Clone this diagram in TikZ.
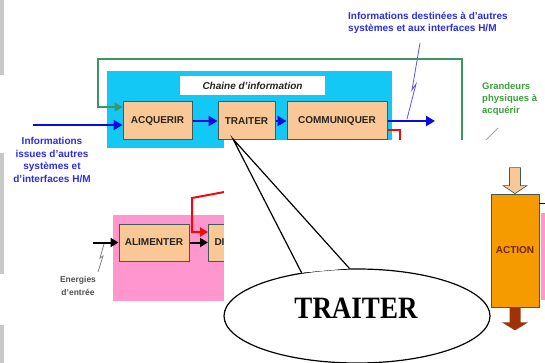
\documentclass[tikz,border=0pt]{standalone}
\usepackage{fontspec}
\usepackage{graphicx}
\setmainfont{Liberation Sans}
\newfontfamily\balloonfont{Liberation Serif}
\usetikzlibrary{arrows.meta,calc,shapes.geometric}
\definecolor{cyanbg}{RGB}{20,200,245}
\definecolor{peach}{RGB}{250,200,150}
\definecolor{boxborder}{RGB}{60,90,90}
\definecolor{greenline}{RGB}{60,150,100}
\definecolor{arrowblue}{RGB}{10,10,225}
\definecolor{infoblue}{RGB}{45,45,225}
\definecolor{greentext}{RGB}{60,160,60}
\definecolor{pinkbg}{RGB}{255,150,205}
\definecolor{redline}{RGB}{240,10,10}
\definecolor{actionorange}{RGB}{245,155,0}
\definecolor{brownarrow}{RGB}{160,50,10}
\definecolor{textdark}{RGB}{40,35,30}
\definecolor{graybar}{RGB}{200,200,200}
\definecolor{graytext}{RGB}{80,80,80}
\begin{document}
\begin{tikzpicture}[x=1pt,y=-1pt,
  font=\bfseries\fontsize{10}{12}\selectfont,
  box/.style={draw=boxborder, fill=peach, line width=1pt, minimum height=38pt, inner sep=0pt, text=textdark},
  blarrow/.style={draw=arrowblue, line width=2.5pt, -{Triangle[length=9pt,width=10pt]}},
  blkarrow/.style={draw=black, line width=2pt, -{Triangle[length=8pt,width=9pt]}},
  redarrow/.style={draw=redline, line width=2pt, -{Triangle[length=8pt,width=9pt]}},
  greenarrow/.style={draw=greenline, line width=2pt, -{Triangle[length=8pt,width=9pt]}},
  bolt/.style={line width=0.8pt}
]
\useasboundingbox (0,0) rectangle (545,363);
\fill[white] (0,0) rectangle (545,363);
% left grey bars
\fill[graybar] (0,0) rectangle (4,75);
\fill[graybar] (0,153) rectangle (4,274);
\fill[graybar] (0,325) rectangle (4,363);

% top-right text
\node[text=infoblue, align=left, anchor=north west, inner sep=0pt] (topinfo) at (348,12) {Informations destinées à d'autres\\systèmes et aux interfaces H/M};
\coordinate (boltA) at (420,43);
\draw[bolt, draw=infoblue!80] (boltA) -- (412,90) -- (416,84) -- (407,119);

% chaine d'information
\fill[cyanbg] (107,71) rectangle (392,148);
\node[fill=white, minimum width=145pt, minimum height=19pt, inner sep=0pt, text=textdark, font=\bfseries\itshape\fontsize{10}{12}\selectfont] (chain) at (252.5,85.5) {Chaine d'information};
\node[box, minimum width=69pt] (acq) at (157.5,121) {ACQUERIR};
\node[box, minimum width=57pt] (tra) at (246.5,121) {TRAITER};
\node[box, minimum width=100pt] (com) at (337,121) {COMMUNIQUER};

% green frame
\coordinate (gStart) at (462,150);
\coordinate (gY) at (0,107);
\draw[greenarrow] (gStart) -- (462,59) -- (98,59) -- (98,107) -- (acq.west |- gY);

% blue arrows
\coordinate (inL) at (33,125);
\draw[blarrow] (inL) -- (inL -| acq.west);
\draw[blarrow] (acq) -- (tra);
\draw[blarrow] (tra) -- (com);
\coordinate (outR) at (435,121);
\draw[blarrow] (com) -- (outR);

% red from communiquer
\coordinate (rA) at (0,130);
\draw[draw=redline, line width=2pt] (com.east |- rA) -- (400,130) -- (400,150);

% grandeurs
\node[text=greentext, align=left, anchor=north west, inner sep=0pt, font=\bfseries\fontsize{9.5}{12}\selectfont] (grand) at (482,82) {Grandeurs\\physiques à\\acquérir};
\coordinate (gbolt) at (498,128);
\draw[bolt, draw=gray!70] (gbolt) -- (484,142);

% left text
\node[text=infoblue, align=center, anchor=north, inner sep=0pt, font=\bfseries\fontsize{10}{12.5}\selectfont] (leftinfo) at (52,137.5) {Informations\\issues d'autres\\systèmes et\\d'interfaces H/M};

% lower chain
\fill[pinkbg] (113,215) rectangle (262,301);
\node[box, minimum width=70pt, minimum height=37pt] (alim) at (154,242.5) {ALIMENTER};
\node[box, anchor=west, minimum height=37pt, text width=33pt, inner xsep=6pt, align=left] (dis) at (208,242.5) {DI};
\coordinate (enL) at (93,242.5);
\draw[blkarrow] (enL) -- (alim);
\draw[blkarrow] (alim) -- (dis);
\coordinate (rB) at (262,185);
\coordinate (rC) at (0,232);
\draw[redarrow] (rB) -- (192,198) -- (192,232) -- (dis.west |- rC);
\coordinate (ebolt) at (104,244);
\draw[bolt, draw=gray] (ebolt) -- (100,258) -- (103,256) -- (98,272);
\node[text=graytext, align=center, anchor=north, inner sep=0pt, font=\bfseries\fontsize{8.5}{13.5}\selectfont] (energ) at (78,276) {Energies\\d'entrée};

% white overlay
\fill[white] (224,140.5) rectangle (492,363);

% action block
\node[draw=boxborder, fill=actionorange, line width=0.8pt, minimum width=48pt, minimum height=113pt, inner sep=0pt, text=brownarrow!70!black] (action) at (515,250.5) {ACTION};
\draw[draw=boxborder, fill=peach, line width=0.6pt] ($(action.north)+(-5.5,-26)$) -- ($(action.north)+(5.5,-26)$) -- ($(action.north)+(5.5,-8)$) -- ($(action.north)+(12,-8)$) -- (action.north) -- ($(action.north)+(-12,-8)$) -- ($(action.north)+(-5.5,-8)$) -- cycle;
\fill[brownarrow] ($(action.south)+(-5.5,0)$) -- ($(action.south)+(5.5,0)$) -- ($(action.south)+(5.5,15)$) -- ($(action.south)+(13,15)$) -- ($(action.south)+(0,23)$) -- ($(action.south)+(-13,15)$) -- ($(action.south)+(-5.5,15)$) -- cycle;
\coordinate (aR) at (545,203);
\draw[line width=1pt] (action.east |- aR) -- (aR);
\fill[pinkbg] (541,213) rectangle (545,300);

% balloon
\node[ellipse, draw, fill=white, line width=1.2pt, minimum width=266pt, minimum height=94pt, inner sep=0pt] (bal) at (357,316) {};
\coordinate (tip) at (233,139);
\fill[white] (bal.142.7) -- (tip) -- (bal.99.7) -- cycle;
\draw[line width=1.2pt] (bal.142.7) -- (tip) -- (bal.99.7);
\node[inner sep=0pt, font=\balloonfont\bfseries\fontsize{27}{30}\selectfont] (baltext) at (356,308) {\scalebox{1}[1.15]{TRAITER}};
\end{tikzpicture}
\end{document}
